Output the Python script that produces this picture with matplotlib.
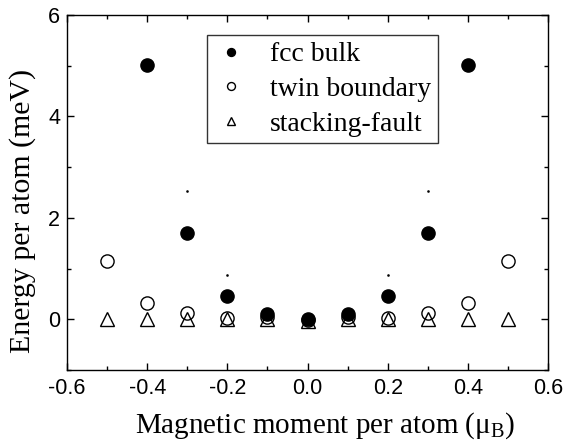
import matplotlib
matplotlib.use('Agg')
import matplotlib.pyplot as plt
from matplotlib.ticker import MultipleLocator

# Energy per atom (meV) vs magnetic moment (mu_B)
fcc_x = [-0.4, -0.3, -0.2, -0.1, 0.0, 0.1, 0.2, 0.3, 0.4]
fcc_y = [5.01, 1.71, 0.45, 0.10, 0.0, 0.10, 0.45, 1.71, 5.01]

twin_x = [-0.5, -0.4, -0.3, -0.2, -0.1, 0.0, 0.1, 0.2, 0.3, 0.4, 0.5]
twin_y = [1.14, 0.32, 0.12, 0.03, 0.05, -0.02, 0.05, 0.03, 0.12, 0.32, 1.14]

sf_x = [-0.5, -0.4, -0.3, -0.2, -0.1, 0.0, 0.1, 0.2, 0.3, 0.4, 0.5]
sf_y = [0.0, 0.0, 0.0, 0.0, 0.0, -0.03, 0.0, 0.0, 0.0, 0.0, 0.0]

# tiny specks visible in the original
speck_x = [-0.3, 0.3, -0.2, 0.2]
speck_y = [2.53, 2.53, 0.88, 0.88]

serif = 'Liberation Serif'
sans = 'Liberation Sans'

fig = plt.figure(figsize=(5.66, 4.42), dpi=100)
ax = fig.add_axes([0.1184, 0.163, 0.85, 0.803])

ax.plot(fcc_x, fcc_y, 'o', color='black', markersize=9.5, label='fcc bulk', zorder=3)
ax.plot(twin_x, twin_y, 'o', markerfacecolor='none', markeredgecolor='black',
        markeredgewidth=1.0, markersize=9.5, label='twin boundary', zorder=4)
ax.plot(sf_x, sf_y, '^', markerfacecolor='none', markeredgecolor='black',
        markeredgewidth=1.0, markersize=10, label='stacking-fault', zorder=5)
ax.plot(speck_x, speck_y, 's', color='black', markersize=0.8, zorder=2)

ax.set_xlim(-0.6, 0.6)
ax.set_ylim(-1, 6)
ax.xaxis.set_minor_locator(MultipleLocator(0.1))
ax.yaxis.set_minor_locator(MultipleLocator(1))
ax.set_xticks([-0.6, -0.4, -0.2, 0.0, 0.2, 0.4, 0.6])
ax.set_xticklabels(['-0.6', '-0.4', '-0.2', '0.0', '0.2', '0.4', '0.6'])
ax.set_yticks([0, 2, 4, 6])
ax.set_yticklabels(['0', '2', '4', '6'])

ax.tick_params(which='both', direction='in', top=True, right=True, width=1.0)
ax.tick_params(which='major', length=5)
ax.tick_params(which='minor', length=3)
for lab in ax.get_xticklabels() + ax.get_yticklabels():
    lab.set_fontfamily(sans)
    lab.set_fontsize(15.5)
ax.tick_params(axis='x', pad=6)
ax.tick_params(axis='y', pad=5)
for s in ax.spines.values():
    s.set_linewidth(1.0)

ax.set_xlabel(r'Magnetic moment per atom ($\mathregular{\mu_B}$)', fontfamily=serif, fontsize=21)
ax.set_ylabel('Energy per atom (meV)', fontfamily=serif, fontsize=21.5)
ax.xaxis.set_label_coords(0.536, -0.115)
ax.yaxis.set_label_coords(-0.064, 0.448)

leg = ax.legend(loc='upper left', bbox_to_anchor=(0.291, 0.944), borderaxespad=0,
                prop={'family': serif, 'size': 20},
                frameon=True, fancybox=False, edgecolor='black', markerscale=0.6,
                handletextpad=0.78, borderpad=0.25, labelspacing=0.33, handlelength=1.25)
leg.get_frame().set_linewidth(1.0)

fig.savefig('out.png', dpi=100)
